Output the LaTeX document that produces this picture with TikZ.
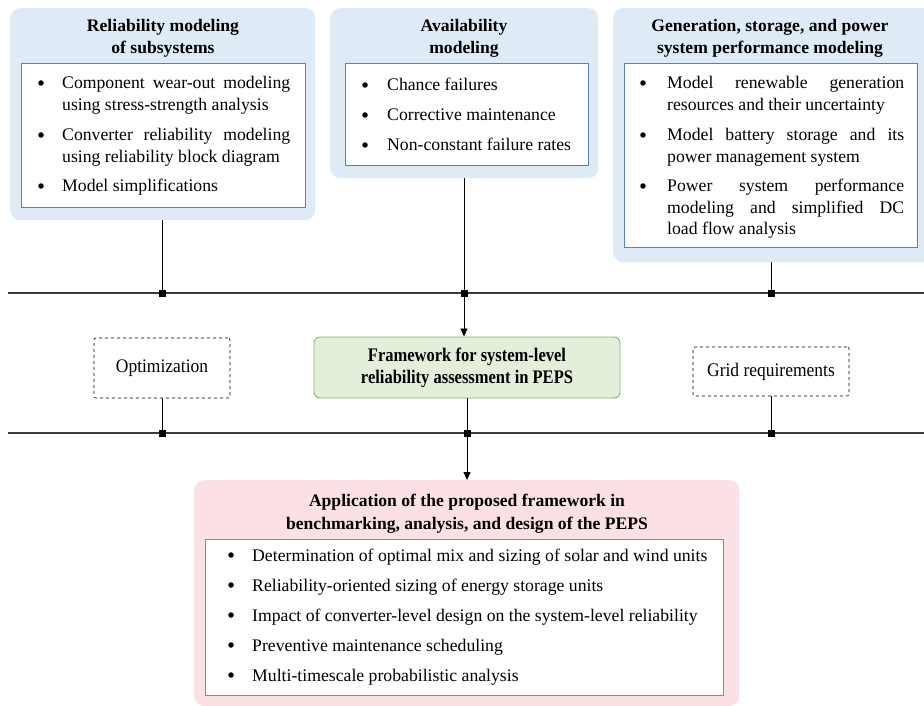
\documentclass[tikz,border=0pt]{standalone}
\usepackage{fontspec}
\setmainfont{Liberation Serif}
\newfontfamily\condfont[FakeStretch=0.91]{Liberation Serif}
\newfontfamily\condbold[FakeStretch=0.86]{Liberation Serif}
\usetikzlibrary{arrows.meta}

\definecolor{blueback}{HTML}{DEEBF6}
\definecolor{blueline}{HTML}{5A7EC2}
\definecolor{greenback}{HTML}{E3EFDA}
\definecolor{greenline}{HTML}{88B373}
\definecolor{pinkback}{HTML}{FCE1E4}
\definecolor{redline}{HTML}{E0606C}
\definecolor{busline}{HTML}{3A3A3A}

\newcommand{\nohyph}{\hyphenpenalty=10000\relax\exhyphenpenalty=10000\relax}

\tikzset{
  outerbox/.style={rounded corners=10pt, draw=none},
  innerbox/.style={draw, line width=0.8pt, fill=white},
  titletext/.style={font=\fontsize{17.6}{22.5}\selectfont\bfseries, align=center, inner sep=0pt},
  bul/.style={circle, fill=black, inner sep=0pt, minimum size=5.5pt},
  itemtext/.style={font=\fontsize{17.7}{21.5}\selectfont\nohyph,
                   inner sep=0pt, anchor=base west, align=justify, text width=#1},
  bus/.style={draw=busline, line width=1.2pt},
  link/.style={draw=black, line width=0.8pt},
  junction/.style={fill=black, minimum size=7pt, inner sep=0pt},
  dashbox/.style={draw, dashed, line width=0.6pt, rounded corners=2pt, font=\condfont\fontsize{19.2}{22}\selectfont},
  arr/.style={link, -{Triangle[length=8pt, width=7pt]}}
}

\begin{document}
\begin{tikzpicture}[x=1pt, y=-1pt]
\useasboundingbox (0,0) rectangle (924,706);

% ---------- top left: subsystem reliability ----------
\node[outerbox, fill=blueback, minimum width=305pt, minimum height=212pt, anchor=north west] (rel) at (10,8) {};
\node[titletext] (relT) at (163,38.5) {Reliability modeling\\of subsystems};
\node[innerbox, draw=blueline, minimum width=284pt, minimum height=144pt, anchor=north west] (relB) at (21,63) {};
\node[bul] (r1b) at (41,83) {};
\node[itemtext=228pt] (r1) at (62,89) {Component wear-out modeling\linebreak using stress-strength analysis};
\node[bul] (r2b) at (41,135) {};
\node[itemtext=228pt] (r2) at (62,141) {Converter reliability modeling\linebreak using reliability block diagram};
\node[bul] (r3b) at (41,186) {};
\node[itemtext=228pt] (r3) at (62,192) {Model simplifications};

% ---------- top middle: availability ----------
\node[outerbox, fill=blueback, minimum width=268pt, minimum height=170pt, anchor=north west] (av) at (330,8) {};
\node[titletext] (avT) at (464,38.5) {Availability\\modeling};
\node[innerbox, draw=blueline, minimum width=243pt, minimum height=102pt, anchor=north west] (avB) at (345,63) {};
\node[bul] (a1b) at (365,85) {};
\node[itemtext=200pt] (a1) at (387,91) {Chance failures};
\node[bul] (a2b) at (365,115) {};
\node[itemtext=200pt] (a2) at (387,121) {Corrective maintenance};
\node[bul] (a3b) at (365,145) {};
\node[itemtext=200pt] (a3) at (387,151) {Non-constant failure rates};

% ---------- top right: generation, storage, power system ----------
\node[outerbox, fill=blueback, minimum width=322pt, minimum height=254pt, anchor=north west] (gen) at (613,8) {};
\node[titletext] (genT) at (770,38.5) {Generation, storage, and power\\system performance modeling};
\node[innerbox, draw=blueline, minimum width=293pt, minimum height=184pt, anchor=north west] (genB) at (624,63) {};
\node[bul] (g1b) at (643,83) {};
\node[itemtext=237pt] (g1) at (667,89) {Model renewable generation\linebreak resources and their uncertainty};
\node[bul] (g2b) at (643,135) {};
\node[itemtext=237pt] (g2) at (667,141) {Model battery storage and its\linebreak power management system};
\node[bul] (g3b) at (643,186) {};
\node[itemtext=237pt] (g3) at (667,192) {Power system performance\linebreak modeling and simplified DC\linebreak load flow analysis};

% ---------- buses ----------
\coordinate (busAl) at (8,293);
\coordinate (busAr) at (924,293);
\coordinate (busBl) at (8,433);
\coordinate (busBr) at (924,433);
\draw[bus] (busAl) -- (busAr);
\draw[bus] (busBl) -- (busBr);

% ---------- middle row ----------
\node[dashbox, minimum width=136pt, minimum height=60pt] (opt) at (162,368) {Optimization};
\node[draw=greenline, fill=greenback, line width=0.9pt, rounded corners=6pt,
      minimum width=306pt, minimum height=61pt, align=center,
      font=\condbold\fontsize{19.2}{22}\selectfont\bfseries] (fw) at (467,367.5) {Framework for system-level\\reliability assessment in PEPS};
\node[dashbox, minimum width=156pt, minimum height=49pt] (grid) at (771,371.5) {Grid requirements};

% ---------- bottom: application ----------
\node[outerbox, fill=pinkback, minimum width=545pt, minimum height=226pt, anchor=north west] (app) at (194,480) {};
\node[titletext] (appT) at (467,513.5) {Application of the proposed framework in\\benchmarking, analysis, and design of the PEPS};
\node[innerbox, draw=redline, minimum width=518pt, minimum height=156pt, anchor=north west] (appB) at (205,539) {};
\node[bul] (p1b) at (231,555) {};
\node[itemtext=470pt] (p1) at (252,561) {Determination of optimal mix and sizing of solar and wind units};
\node[bul] (p2b) at (231,585) {};
\node[itemtext=470pt] (p2) at (252,591) {Reliability-oriented sizing of energy storage units};
\node[bul] (p3b) at (231,615) {};
\node[itemtext=470pt] (p3) at (252,621) {Impact of converter-level design on the system-level reliability};
\node[bul] (p4b) at (231,645) {};
\node[itemtext=470pt] (p4) at (252,651) {Preventive maintenance scheduling};
\node[bul] (p5b) at (231,675) {};
\node[itemtext=470pt] (p5) at (252,681) {Multi-timescale probabilistic analysis};

% ---------- junctions and links ----------
\node[junction] (j1) at (162,293) {};
\node[junction] (j2) at (464,293) {};
\node[junction] (j3) at (771,293) {};
\node[junction] (j4) at (162,433) {};
\node[junction] (j5) at (467,433) {};
\node[junction] (j6) at (771,433) {};

\draw[link] (rel.south -| j1) -- (j1.center);
\draw[link] (av.south -| j2) -- (j2.center);
\draw[link] (gen.south -| j3) -- (j3.center);
\draw[arr] (j2.center) -- (fw.north -| j2);
\draw[link] (opt.south) -- (j4.center);
\draw[link] (fw.south) -- (j5.center);
\draw[link] (grid.south) -- (j6.center);
\draw[arr] (j5.center) -- (app.north -| j5);
\end{tikzpicture}
\end{document}
